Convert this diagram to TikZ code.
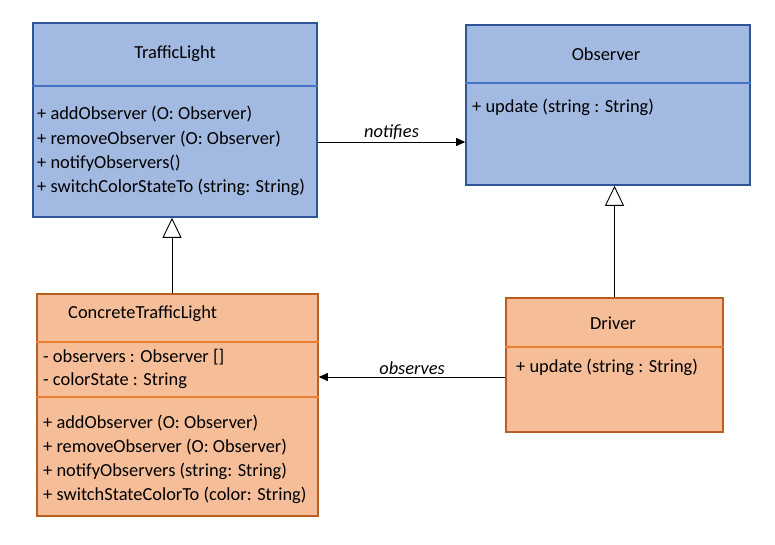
\documentclass[tikz,border=0pt]{standalone}
\usepackage{fontspec}
\setmainfont{Carlito}
\usepackage{tikz}
\usetikzlibrary{arrows.meta}

\definecolor{blueFill}{HTML}{A2B9E1}
\definecolor{blueLine}{HTML}{2F5597}
\definecolor{blueDiv}{HTML}{4472C4}
\definecolor{orangeFill}{HTML}{F5BE99}
\definecolor{orangeLine}{HTML}{BA5F22}
\definecolor{orangeDiv}{HTML}{ED7D31}

\tikzset{
    bluebox/.style={draw=blueLine, fill=blueFill, line width=1.6pt, inner sep=0pt},
    orangebox/.style={draw=orangeLine, fill=orangeFill, line width=1.6pt, inner sep=0pt},
    bluediv/.style={draw=blueDiv, line width=1.4pt},
    orangediv/.style={draw=orangeDiv, line width=1.4pt},
    member/.style={anchor=west, inner sep=0pt, font=\fontsize{18.4pt}{22pt}\selectfont},
    title/.style={inner sep=0pt, font=\fontsize{18.4pt}{22pt}\selectfont},
    assoc/.style={-{Triangle[length=9pt, width=8pt]}, line width=0.9pt},
    inherit/.style={-{Triangle[open, length=20pt, width=19pt, fill=white]}, line width=0.9pt},
    rel/.style={inner sep=2pt, font=\fontsize{18.4pt}{22pt}\selectfont\itshape}
}

\begin{document}
\begin{tikzpicture}[x=1pt, y=-1pt]
    \useasboundingbox (0,0) rectangle (775,545);
    % Draw class boxes
    \node[bluebox, minimum width=284pt, minimum height=194pt] (tl) at (175,120) {};
    \node[bluebox, minimum width=284pt, minimum height=160pt] (obs) at (608,105) {};
    \node[orangebox, minimum width=281pt, minimum height=222pt] (ctl) at (177.5,405) {};
    \node[orangebox, minimum width=217pt, minimum height=134pt] (drv) at (614.5,365) {};
    % Dividers
    \draw[bluediv] (tl.west |- 0,86) -- (tl.east |- 0,86);
    \draw[bluediv] (obs.west |- 0,83) -- (obs.east |- 0,83);
    \draw[orangediv] (ctl.west |- 0,342) -- (ctl.east |- 0,342);
    \draw[orangediv] (ctl.west |- 0,397) -- (ctl.east |- 0,397);
    \draw[orangediv] (drv.west |- 0,347) -- (drv.east |- 0,347);
    % Class names
    \node[title] (tlname) at (175,54) {TrafficLight};
    \node[title] (obsname) at (606,54) {Observer};
    \node[title, anchor=west] (ctlname) at (68,314) {ConcreteTrafficLight};
    \node[title] (drvname) at (613,323) {Driver};
    % Members
    \foreach \txt [count=\i] in {{+ addObserver (O: Observer)}, {+ removeObserver (O: Observer)},
        {+ notifyObservers()}, {+ switchColorStateTo (string: String)}} {
        \node[member] (tlm\i) at (37, 90+24.3*\i) {\txt};
    }
    \node[member] (obsm1) at (472,107) {+ update (string : String)};
    \foreach \txt [count=\i] in {{- observers : Observer []}, {- colorState : String}} {
        \node[member] (cta\i) at (43, 333+24*\i) {\txt};
    }
    \foreach \txt [count=\i] in {{+ addObserver (O: Observer)}, {+ removeObserver (O: Observer)},
        {+ notifyObservers (string: String)}, {+ switchStateColorTo (color: String)}} {
        \node[member] (ctm\i) at (43, 398.5+24.3*\i) {\txt};
    }
    \node[member] (drvm1) at (516,367) {+ update (string : String)};
    % Relations
    \draw[assoc] ([yshift=-22pt]tl.east) -- ([yshift=-22pt]tl.east -| obs.west)
        node[rel, midway, above] (notif) {notifies};
    \draw[assoc] ([yshift=-12pt]drv.west) -- ([yshift=-12pt]drv.west -| ctl.east)
        node[rel, midway, above] (obsv) {observes};
    \draw[inherit] ([xshift=-3pt]tl.south |- ctl.north) -- ([xshift=-3pt]tl.south);
    \draw[inherit] (drv.north) -- (drv.north |- obs.south);
\end{tikzpicture}
\end{document}
